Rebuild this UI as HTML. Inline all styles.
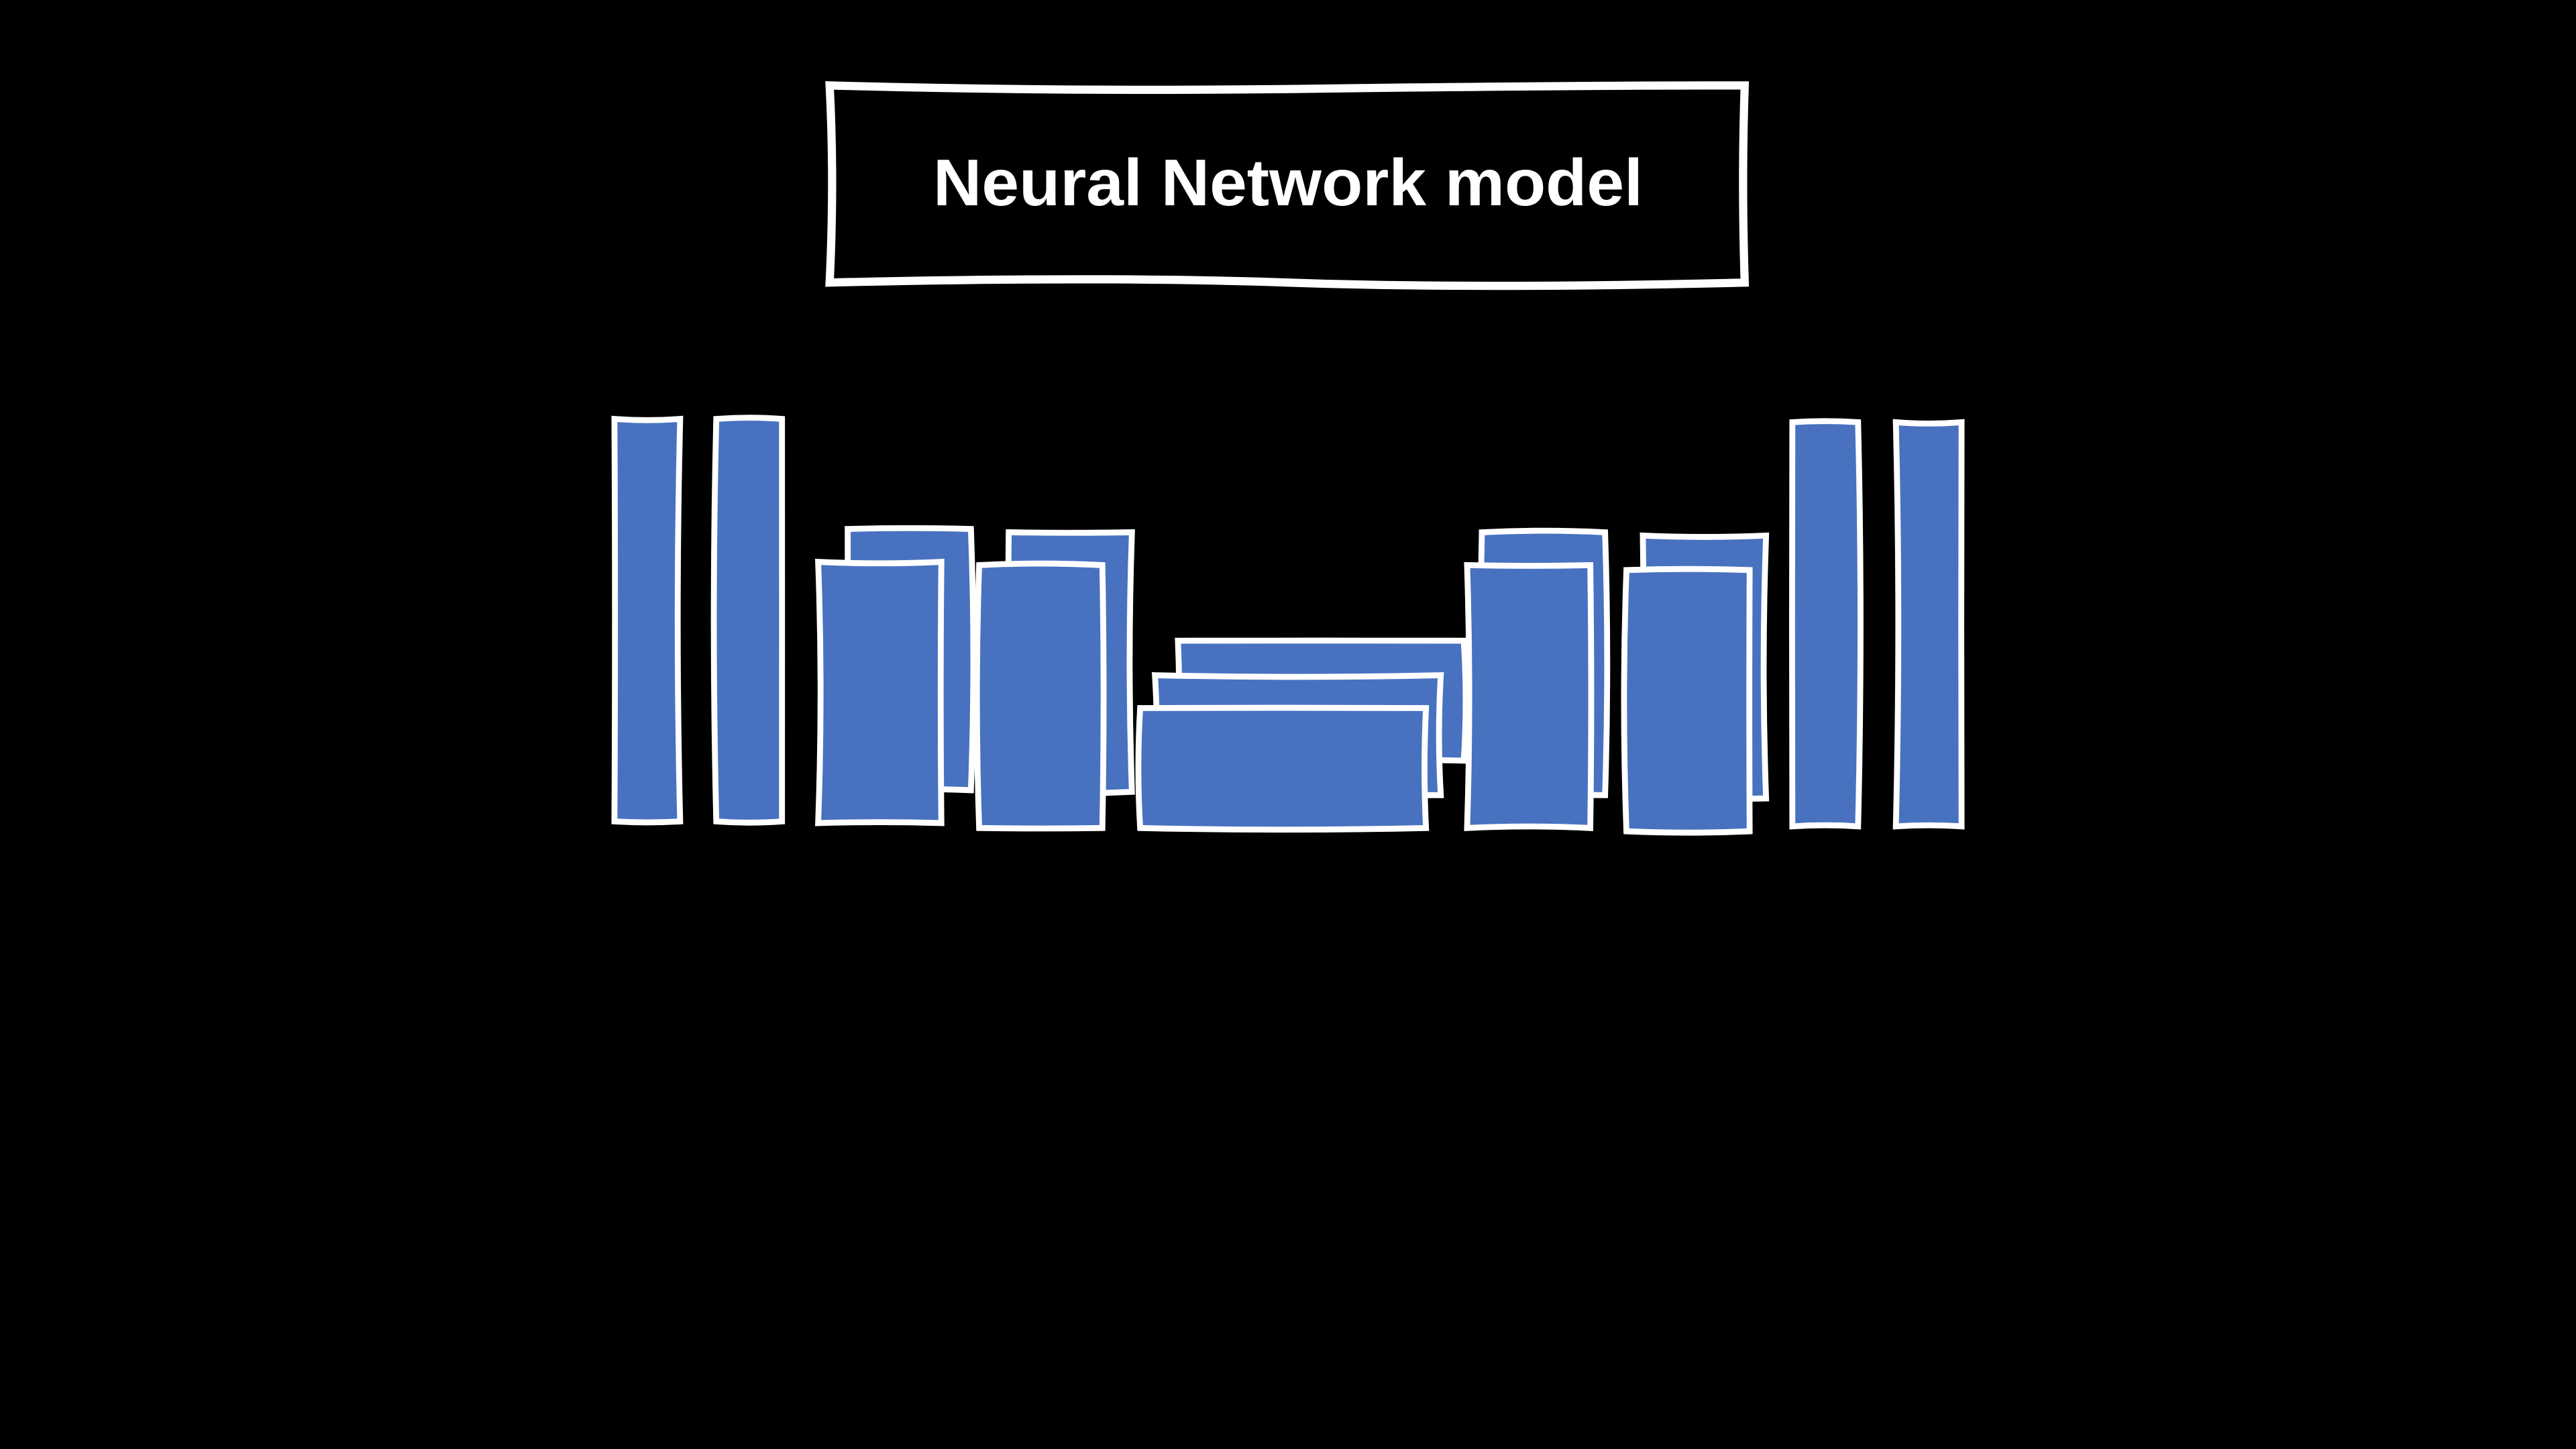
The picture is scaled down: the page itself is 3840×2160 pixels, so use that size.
<!DOCTYPE html>
<html><head><meta charset="utf-8"><title>Neural Network model</title>
<style>html,body{margin:0;padding:0;background:#000;width:3840px;height:2160px;overflow:hidden}svg{display:block}</style>
</head><body>
<svg id="chart" width="3840" height="2160" viewBox="0 0 1568 882" xmlns="http://www.w3.org/2000/svg">
<rect x="0" y="0" width="1568" height="882" fill="#000"/>
<path d="M505,52 Q650,56 800,54 T1062,52 Q1060,110 1062,172 Q900,176 784,172 T505,172 Q508,110 505,52 Z" fill="none" stroke="#fff" stroke-width="5"/>
<text x="784" y="125" text-anchor="middle" font-family="Liberation Sans, sans-serif" font-weight="bold" font-size="40" fill="#fff" textLength="432" lengthAdjust="spacingAndGlyphs">Neural Network model</text>
<g id="layers"></g>
</svg>
<script>
// layer blocks: left, top, right, bottom (diagram units), drawn back to front
const layerNames = ['input-a','input-b','conv1-back','conv1-front','conv2-back','conv2-front','bottleneck-back','bottleneck-mid','bottleneck-front','deconv1-back','deconv1-front','deconv2-back','deconv2-front','output-a','output-b'];
const layerLeft   = [374,436,516,498,614,596,717,703,694,902,893,1000,990,1091,1154];
const layerTop    = [255,255,322,342,324,344,390,411,431,324,344,326,347,257,257];
const layerRight  = [414,476,591,573,689,671,891,877,868,977,968,1075,1065,1131,1194];
const layerBottom = [500,500,481,501,482,504,463,484,504,484,504,486,506,503,503];
const g = document.getElementById('layers');
const NS = 'http://www.w3.org/2000/svg';
function wob(i,k){ return Math.sin(i*1.7+k*2.3)*2; }
for (let i=0;i<layerNames.length;i++){
  const l=layerLeft[i], t=layerTop[i], r=layerRight[i], b=layerBottom[i];
  const my=(t+b)/2, mx=(l+r)/2;
  const d=`M${l},${t} Q${mx},${t+wob(i,1)} ${r},${t} Q${r+wob(i,2)*1.5},${my} ${r},${b} Q${mx},${b+wob(i,3)} ${l},${b} Q${l+wob(i,4)*1.5},${my} ${l},${t} Z`;
  const p=document.createElementNS(NS,'path');
  p.setAttribute('d',d);
  p.setAttribute('fill','#4872c0');
  p.setAttribute('stroke','#fff');
  p.setAttribute('stroke-width','3.6');
  
  
  g.appendChild(p);
}
</script>
</body></html>
